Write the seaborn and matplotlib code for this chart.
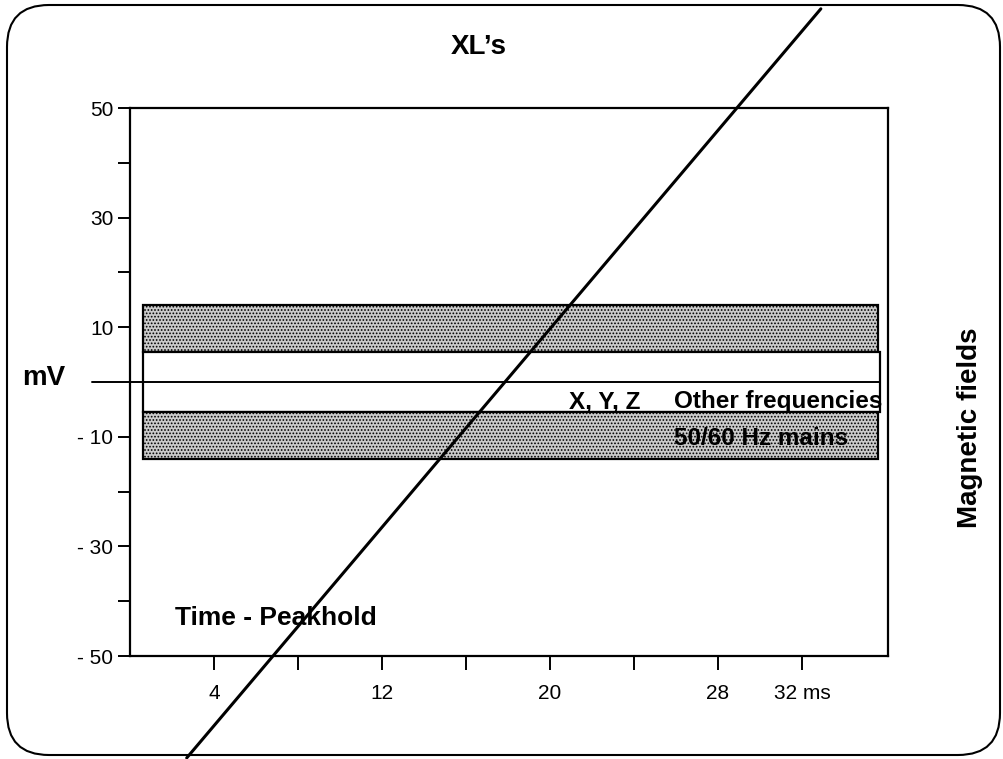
import matplotlib
matplotlib.use("Agg")
import matplotlib.pyplot as plt
import numpy as np
import pandas as pd
import seaborn as sns
from matplotlib.patches import FancyBboxPatch, Rectangle
from matplotlib.transforms import IdentityTransform

# time axis (ms) and voltage axis (mV)
x_ticks = [4, 8, 12, 16, 20, 24, 28, 32]
x_tick_labels = ["4", "", "12", "", "20", "", "28", "32 ms"]
y_major = [50, 30, 10, -10, -30, -50]
y_major_labels = ["50", "30", "10", "- 10", "- 30", "- 50"]
y_minor = [40, 20, -20, -40]

# peakhold trace (runs off the plot at both ends)
trace_ms = [2.7, 32.9]
trace_mv = [-68.6, 68.1]

# frequency bands: (low mV, high mV, filled)
band_low = [5.5, -5.5, -14.0]
band_high = [14.0, 5.5, -5.5]
band_filled = [True, False, True]
band_start = [0.6, 0.6, 0.6]
band_end = [35.6, 35.7, 35.6]

sns.set_theme(style="white")
plt.rcParams["font.family"] = ["Liberation Sans", "DejaVu Sans"]
plt.rcParams["hatch.color"] = "#8f8f8f"
plt.rcParams["hatch.linewidth"] = 0.8

fig = plt.figure(figsize=(10.04, 7.59), dpi=100)
ax = fig.add_axes([0.1295, 0.1357, 0.755, 0.7220])
ax.set_xlim(0, 36.1)
ax.set_ylim(-50, 50)

for lo, hi, filled, x0, x1 in zip(band_low, band_high, band_filled, band_start, band_end):
    ax.add_patch(Rectangle((x0, lo), x1 - x0, hi - lo,
                           facecolor="#cbcbcb" if filled else "white",
                           hatch="....." if filled else None,
                           edgecolor="black", linewidth=1.6, zorder=2))

# zero line reaching out to the mV label
ax.plot([-1.8, 35.7], [0, 0], color="black", lw=1.4, clip_on=False, zorder=3)

trace = pd.DataFrame({"ms": trace_ms, "mV": trace_mv})
sns.lineplot(data=trace, x="ms", y="mV", ax=ax, color="black", lw=2.2,
             clip_on=False, zorder=5)

ax.set_xticks(x_ticks)
ax.set_xticklabels(x_tick_labels, fontsize=15)
ax.set_yticks(y_major)
ax.set_yticklabels(y_major_labels, fontsize=15)
ax.set_yticks(y_minor, minor=True)
ax.tick_params(axis="x", direction="out", length=10, width=1.4, pad=10,
               colors="black", bottom=True)
ax.tick_params(axis="y", which="both", direction="out", length=9, width=1.4,
               pad=3, colors="black", left=True)
ax.set_xlabel("")
ax.set_ylabel("")
for s in ax.spines.values():
    s.set_color("black")
    s.set_linewidth(1.6)

bold = dict(fontweight="bold", color="black")
ax.text(2.15, -43, "Time - Peakhold", fontsize=19, va="center", ha="left", **bold)
ax.text(22.6, -3.6, "X, Y, Z", fontsize=17.5, va="center", ha="center", **bold)
ax.text(25.9, -3.6, "Other frequencies", fontsize=17.5, va="center", ha="left", **bold)
ax.text(25.9, -10.4, "50/60 Hz mains", fontsize=17.5, va="center", ha="left", **bold)

fig.text(479 / 1004, 1 - 47 / 759, "XL\u2019s", fontsize=20, ha="center", va="center", **bold)
fig.text(44 / 1004, 1 - 378 / 759, "mV", fontsize=20, ha="center", va="center", **bold)
fig.text(970 / 1004, 1 - 428 / 759, "Magnetic fields", fontsize=20, rotation=90,
         ha="center", va="center", **bold)

fig.patches.append(FancyBboxPatch((7, 4), 993, 750,
                                  boxstyle="round,pad=0,rounding_size=42",
                                  transform=IdentityTransform(), fill=False,
                                  edgecolor="black", linewidth=1.5))

fig.savefig("out.png", dpi=100)
